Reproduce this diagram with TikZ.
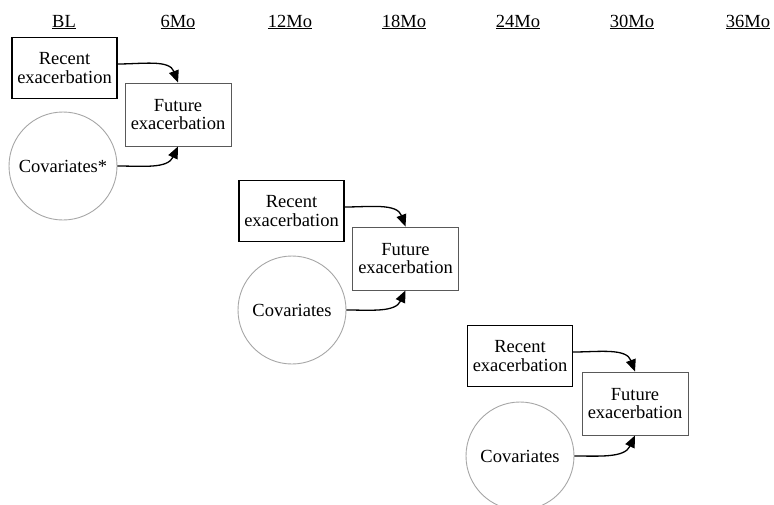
\documentclass[tikz,border=0pt]{standalone}
\usepackage{fontspec}
\setmainfont{Liberation Serif}
\usepackage{tikz}
\usetikzlibrary{arrows.meta,positioning}

\tikzset{
  recent/.style={draw=black, line width=1.2pt, minimum width=105pt, minimum height=61pt, align=center, inner sep=1pt},
  future/.style={draw=black!65, line width=0.9pt, minimum width=106pt, minimum height=63pt, align=center, inner sep=1pt},
  covar/.style={circle, draw=black!35, line width=0.9pt, minimum size=108pt, align=center, inner sep=1pt},
  hdr/.style={font=\fontsize{18.5}{20}\selectfont},
  link/.style={line width=1.3pt, -{Triangle[length=12pt,width=10pt]}}
}

\begin{document}
\begin{tikzpicture}[x=1pt,y=-1pt,font=\fontsize{18.5}{18.5}\selectfont]
   \useasboundingbox (0,0) rectangle (774,504);

   % time points
   \draw (64,22) node[hdr] (bl) {\underline{BL}};
   \draw (178,22) node[hdr] (m6) {\underline{6Mo}};
   \draw (290,22) node[hdr] (m12) {\underline{12Mo}};
   \draw (404,22) node[hdr] (m18) {\underline{18Mo}};
   \draw (518,22) node[hdr] (m24) {\underline{24Mo}};
   \draw (632,22) node[hdr] (m30) {\underline{30Mo}};
   \draw (748,22) node[hdr] (m36) {\underline{36Mo}};

   % BL -> 6Mo
   \draw (64.5,68) node[recent] (rec1) {Recent\\exacerbation};
   \draw (178,114.5) node[future] (fut1) {Future\\exacerbation};
   \draw (63,166) node[covar] (cov1) {Covariates*};

   % 12Mo -> 18Mo
   \draw (291.5,211) node[recent] (rec2) {Recent\\exacerbation};
   \draw (405.5,258.5) node[future] (fut2) {Future\\exacerbation};
   \draw (292,310) node[covar] (cov2) {Covariates};

   % 24Mo -> 30Mo
   \draw (520,356) node[recent] (rec3) {Recent\\exacerbation};
   \draw (635,403.5) node[future] (fut3) {Future\\exacerbation};
   \draw (520,456) node[covar] (cov3) {Covariates};

   \draw[link] ([yshift=4pt]rec1.east) to[out=0,in=110] (fut1.north);
   \draw[link] (cov1.east) to[out=0,in=-115] (fut1.south);
   \draw[link] ([yshift=4pt]rec2.east) to[out=0,in=110] (fut2.north);
   \draw[link] (cov2.east) to[out=0,in=-115] (fut2.south);
   \draw[link] ([yshift=4pt]rec3.east) to[out=0,in=110] (fut3.north);
   \draw[link] (cov3.east) to[out=0,in=-115] (fut3.south);
\end{tikzpicture}
\end{document}
